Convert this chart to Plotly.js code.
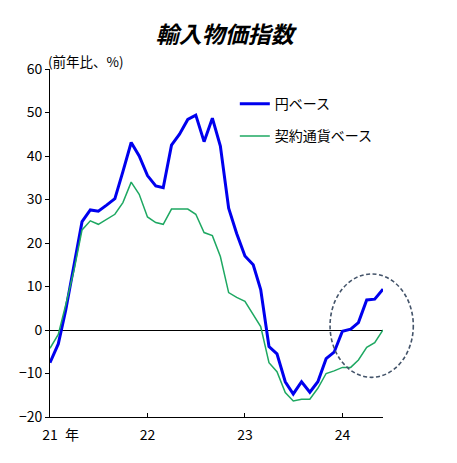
<!DOCTYPE html>
<html>
<head>
<meta charset="utf-8">
<script src="https://cdn.plot.ly/plotly-3.0.1.min.js"></script>
<style>
html,body{margin:0;padding:0;background:#fff;}
#chart{width:457px;height:463px;}
</style>
</head>
<body>
<div id="chart"></div>
<script>
// Months (Jan 2021 – Jun 2024)
const months = [
  "2021-01-01","2021-02-01","2021-03-01","2021-04-01","2021-05-01","2021-06-01",
  "2021-07-01","2021-08-01","2021-09-01","2021-10-01","2021-11-01","2021-12-01",
  "2022-01-01","2022-02-01","2022-03-01","2022-04-01","2022-05-01","2022-06-01",
  "2022-07-01","2022-08-01","2022-09-01","2022-10-01","2022-11-01","2022-12-01",
  "2023-01-01","2023-02-01","2023-03-01","2023-04-01","2023-05-01","2023-06-01",
  "2023-07-01","2023-08-01","2023-09-01","2023-10-01","2023-11-01","2023-12-01",
  "2024-01-01","2024-02-01","2024-03-01","2024-04-01","2024-05-01","2024-06-01"
];
// 円ベース (yen basis), YoY %
const yenBasis = [
  -7.5, -3.2, 4.6, 14.6, 24.9, 27.6, 27.3, 28.7, 30.2, 36.4, 43.1, 40.0,
  35.5, 33.1, 32.7, 42.5, 45.0, 48.4, 49.4, 43.3, 48.7, 42.3, 28.0, 22.2,
  17.0, 15.0, 9.3, -3.8, -5.5, -11.9, -14.7, -11.9, -14.3, -11.9, -6.6, -5.1,
  -0.3, 0.2, 1.7, 6.9, 7.1, 9.4
];
// 契約通貨ベース (contract currency basis), YoY %
const contractBasis = [
  -4.2, -1.0, 5.8, 13.8, 23.0, 25.1, 24.3, 25.5, 26.6, 29.3, 34.0, 31.2,
  26.0, 24.7, 24.3, 27.8, 27.8, 27.8, 26.6, 22.4, 21.7, 16.9, 8.6, 7.5,
  6.6, 3.5, 0.8, -7.5, -9.6, -14.4, -16.3, -15.9, -15.9, -13.4, -10.0, -9.4,
  -8.6, -8.6, -6.9, -4.0, -2.9, 0.0
];
const tickVals = ["2021-01-01","2022-01-01","2023-01-01","2024-01-01"];
const tickText = ["21","22","23","24"];
const seriesNames = ["円ベース","契約通貨ベース"];

const font = "Noto Sans CJK JP, sans-serif";

const traces = [
  {x: months, y: yenBasis, type: "scatter", mode: "lines", name: seriesNames[0],
   legendgroup: "a", line: {color: "#0000ee", width: 3}},
  {x: months, y: contractBasis, type: "scatter", mode: "lines", name: seriesNames[1],
   legendgroup: "b", line: {color: "#1ea862", width: 1.5}}
];

const layout = {
  width: 457, height: 463,
  margin: {l: 50, r: 74, t: 69, b: 46},
  paper_bgcolor: "#fff", plot_bgcolor: "#fff",
  font: {family: font, size: 13, color: "#000"},
  title: {text: "<b><i>輸入物価指数</i></b>", font: {family: font, size: 23, color: "#000"},
          x: 0.492, xref: "container", y: 0.924, yref: "container", yanchor: "middle"},
  showlegend: true,
  legend: {x: 0.555, y: 0.945, xanchor: "left", yanchor: "top", bgcolor: "rgba(0,0,0,0)",
           font: {family: font, size: 14}, traceorder: "grouped", tracegroupgap: 11},
  xaxis: {type: "date", range: ["2021-01-01", "2024-06-01"], tickmode: "array",
          tickvals: tickVals, ticktext: tickText, ticks: "inside", ticklen: 4,
          tickcolor: "#000", showline: true, linecolor: "#000", linewidth: 1,
          ticklabelstandoff: 5,
          showgrid: false, zeroline: false, tickfont: {family: font, size: 14}, fixedrange: true},
  yaxis: {range: [-20, 60], dtick: 10, tick0: 0, ticks: "outside", ticklen: 4, tickcolor: "#000",
          showline: true, linecolor: "#000", linewidth: 1, showgrid: false,
          zeroline: true, zerolinecolor: "#000", zerolinewidth: 1,
          tickfont: {family: font, size: 14}, fixedrange: true},
  shapes: [
    {type: "circle", xref: "paper", yref: "paper", x0: 0.841, x1: 1.091, y0: 0.114, y1: 0.411,
     line: {color: "#44546a", width: 1.6, dash: "4px,2.5px"}, fillcolor: "rgba(0,0,0,0)"}
  ],
  annotations: [
    {text: "(前年比、%)", xref: "paper", yref: "paper", x: -0.012, y: 1.022,
     xanchor: "left", yanchor: "middle", showarrow: false, font: {family: font, size: 13.5}},
    {text: "年", xref: "paper", yref: "paper", x: 0.066, y: -0.048,
     xanchor: "center", yanchor: "middle", showarrow: false, font: {family: font, size: 14}}
  ]
};

Plotly.newPlot("chart", traces, layout, {displayModeBar: false, staticPlot: true});
</script>
</body>
</html>
